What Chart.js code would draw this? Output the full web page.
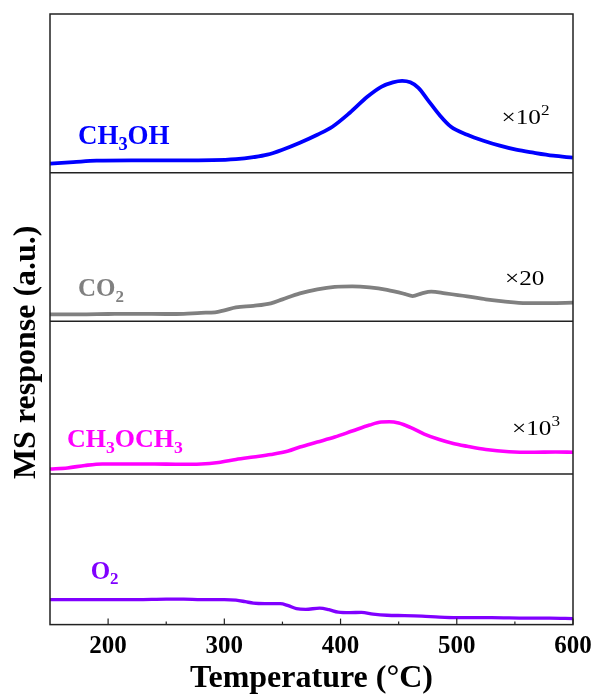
<!DOCTYPE html>
<html>
<head>
<meta charset="utf-8">
<script src="https://cdn.jsdelivr.net/npm/chart.js@4.4.1/dist/chart.umd.min.js"></script>
<style>
  html, body { margin: 0; padding: 0; background: #fff; }
  #wrap { width: 595px; height: 697px; position: relative; }
</style>
</head>
<body>
<div id="wrap"><canvas id="tpd"></canvas></div>
<script>
// TPD-MS traces, temperature in °C vs. signal (a.u., offset per panel)
const meohT = [150, 170, 190, 220, 260, 290, 310, 325, 337, 350, 365, 380, 393, 408, 423, 435, 445, 453, 460, 467, 475, 485, 495, 509, 523, 537, 551, 566, 583, 600];
const meohV = [9, 10.5, 12, 12.3, 12.3, 12.5, 13.5, 15.5, 18, 23, 30, 38, 46, 60, 76, 86, 90.5, 92, 90.5, 85, 73, 58, 46, 38, 32, 27, 23, 20, 17, 15];

const co2T = [150, 175, 200, 225, 250, 265, 280, 292, 300, 310, 325, 340, 350, 365, 380, 395, 410, 425, 440, 455, 462, 470, 478, 490, 509, 525, 540, 560, 580, 600];
const co2V = [7, 7, 7.3, 7.5, 7.3, 7.5, 8.5, 9, 11, 14, 15.5, 18, 22, 28, 32, 34.5, 35, 34, 31.5, 27.5, 25.3, 28, 29.7, 28, 25, 22, 20, 18.3, 18.3, 18.7];

const dmeT = [150, 165, 180, 195, 215, 240, 260, 280, 295, 310, 325, 340, 355, 365, 380, 395, 410, 425, 435, 442, 450, 460, 472, 485, 497, 509, 525, 545, 565, 585, 600];
const dmeV = [5, 6, 8.5, 10, 10, 10, 9.7, 10, 11.5, 14.5, 17, 19.5, 23, 27, 32, 37, 43, 49, 52, 52.3, 51, 46.7, 40, 34.5, 30.5, 27.7, 24.5, 22.3, 21.7, 22, 21.7];

const o2T = [150, 175, 200, 225, 250, 265, 280, 300, 310, 318, 325, 335, 348, 355, 362, 370, 382, 390, 398, 408, 418, 428, 440, 455, 470, 485, 500, 530, 560, 580, 600];
const o2V = [25, 25, 25, 25, 25.5, 25.5, 25, 25, 24.5, 23, 21.5, 21, 21, 19, 16, 15.3, 16.5, 15, 12.5, 12, 12.3, 10.5, 9.3, 9, 8.5, 7.5, 7, 7, 6.5, 6.5, 6];

const tempTicks = [200, 300, 400, 500, 600];
const tempMinor = [250, 350, 450, 550];

const serif = '"Liberation Serif", "Times New Roman", serif';

const pts = (ts, vs) => ts.map((t, i) => ({ x: t, y: vs[i] }));

// species labels with subscripts, and gain factors with superscripts
const speciesLabels = [
  { scale: 'yMeOH', color: '#0000ff', t: 174, v: 29, size: 27, parts: [['CH', 0], ['3', 1], ['OH', 0]] },
  { scale: 'yCO2', color: '#808080', t: 174, v: 25, size: 25, parts: [['CO', 0], ['2', 1]] },
  { scale: 'yDME', color: '#ff00ff', t: 164.6, v: 27, size: 26, parts: [['CH', 0], ['3', 1], ['OCH', 0], ['3', 1]] },
  { scale: 'yO2', color: '#8000ff', t: 185, v: 46, size: 25, parts: [['O', 0], ['2', 1]] }
];
const gainLabels = [
  { scale: 'yMeOH', t: 538.5, v: 49, parts: [['\u00d710', 0], ['2', -1]] },
  { scale: 'yCO2', t: 541.5, v: 36, parts: [['\u00d720', 0]] },
  { scale: 'yDME', t: 547.5, v: 39, parts: [['\u00d710', 0], ['3', -1]] }
];

function drawParts(ctx, parts, x, y, size, weight, stretch) {
  ctx.save();
  ctx.translate(x, y);
  ctx.scale(stretch, 1);
  ctx.textAlign = 'left';
  ctx.textBaseline = 'alphabetic';
  let cx = 0;
  parts.forEach(([txt, mode]) => {
    const s = mode === 0 ? size : size * 0.68;
    const dy = mode === 1 ? size * 0.22 : (mode === -1 ? -size * 0.42 : 0);
    ctx.font = weight + ' ' + s + 'px ' + serif;
    ctx.fillText(txt, cx, dy);
    cx += ctx.measureText(txt).width;
  });
  ctx.restore();
}

const framePlugin = {
  id: 'frame',
  afterDraw(chart) {
    const { ctx, chartArea: a, scales } = chart;
    const xs = scales.x;
    ctx.save();
    ctx.strokeStyle = '#222';
    ctx.lineWidth = 1.5;
    ctx.strokeRect(a.left, a.top, a.right - a.left, a.bottom - a.top);
    // panel dividers
    ['yCO2', 'yDME', 'yO2'].forEach(id => {
      const y = scales[id].top;
      ctx.beginPath();
      ctx.moveTo(a.left, y);
      ctx.lineTo(a.right, y);
      ctx.stroke();
    });
    // inward ticks on the temperature axis
    ctx.lineWidth = 1.2;
    tempTicks.concat(tempMinor).forEach(t => {
      const px = xs.getPixelForValue(t);
      const len = tempTicks.includes(t) ? 6 : 3;
      ctx.beginPath();
      ctx.moveTo(px, a.bottom);
      ctx.lineTo(px, a.bottom - len);
      ctx.stroke();
    });
    speciesLabels.forEach(l => {
      ctx.fillStyle = l.color;
      drawParts(ctx, l.parts, xs.getPixelForValue(l.t), scales[l.scale].getPixelForValue(l.v), l.size, 'bold', 1);
    });
    ctx.fillStyle = '#000';
    gainLabels.forEach(l => {
      drawParts(ctx, l.parts, xs.getPixelForValue(l.t), scales[l.scale].getPixelForValue(l.v), 21, 'normal', 1.2);
    });
    // shared y title
    ctx.translate(27, (a.top + a.bottom) / 2 + 33);
    ctx.rotate(-Math.PI / 2);
    ctx.textAlign = 'center';
    ctx.textBaseline = 'middle';
    ctx.font = 'bold 32px ' + serif;
    ctx.fillText('MS response (a.u.)', 0, 0);
    ctx.restore();
  }
};

const panelAxis = (max, weight) => ({
  type: 'linear',
  position: 'left',
  stack: 'panels',
  stackWeight: weight,
  min: 0,
  max: max,
  ticks: { display: false },
  grid: { display: false, drawTicks: false },
  border: { display: false }
});

const line = (label, data, color, yAxisID, width) => ({
  label, data, yAxisID,
  borderColor: color,
  borderWidth: width,
  pointRadius: 0,
  fill: false,
  cubicInterpolationMode: 'monotone'
});

new Chart(document.getElementById('tpd'), {
  type: 'line',
  data: {
    datasets: [
      line('CH3OH', pts(meohT, meohV), '#0000ff', 'yMeOH', 3.8),
      line('CO2', pts(co2T, co2V), '#808080', 'yCO2', 3.8),
      line('CH3OCH3', pts(dmeT, dmeV), '#ff00ff', 'yDME', 3.6),
      line('O2', pts(o2T, o2V), '#8000ff', 'yO2', 3.4)
    ]
  },
  options: {
    responsive: true,
    maintainAspectRatio: false,
    animation: false,
    devicePixelRatio: 1,
    layout: { padding: { left: 50, right: 22, top: 14, bottom: 0 } },
    plugins: { legend: { display: false }, tooltip: { enabled: false } },
    scales: {
      x: {
        type: 'linear',
        min: 150,
        max: 600,
        afterBuildTicks: s => { s.ticks = tempTicks.map(v => ({ value: v })); },
        // let the "600" label hang into the right margin instead of shrinking the plot
        afterFit: s => { s.paddingLeft = 0; s.paddingRight = 0; },
        ticks: { color: '#000', font: { family: serif, size: 25, weight: 'bold' }, padding: 7, maxRotation: 0 },
        grid: { display: false, drawTicks: false },
        border: { display: false },
        title: { display: true, text: 'Temperature (\u00b0C)', color: '#000', font: { family: serif, size: 32, weight: 'bold' }, padding: { top: -9, bottom: -1 } }
      },
      yO2: panelAxis(151, 151),
      yDME: panelAxis(153, 153),
      yCO2: panelAxis(149, 149),
      yMeOH: panelAxis(159, 159)
    }
  },
  plugins: [framePlugin]
});
</script>
</body>
</html>
